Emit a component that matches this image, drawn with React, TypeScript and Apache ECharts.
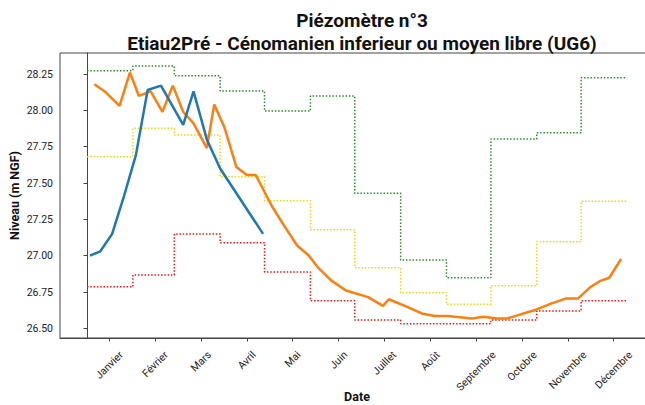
import React, { useEffect, useRef } from 'react';
import * as echarts from 'echarts';

// ---- categories / ticks ----
const MONTHS = ['Janvier', 'Février', 'Mars', 'Avril', 'Mai', 'Juin', 'Juillet', 'Août', 'Septembre', 'Octobre', 'Novembre', 'Décembre'];
const TICK_DAYS = [15, 46, 77, 108, 139, 170, 201, 232, 263, 294, 325, 356];
const MONTH_START_DAYS = [0, 31, 59, 90, 120, 151, 181, 212, 243, 273, 304, 334, 365];
const Y_TICKS = [26.5, 26.75, 27.0, 27.25, 27.5, 27.75, 28.0, 28.25];

// ---- monthly threshold levels (m NGF) ----
const GREEN_LEVELS = [28.273, 28.305, 28.238, 28.133, 27.995, 28.099, 27.429, 26.97, 26.848, 27.803, 27.846, 28.225];
const YELLOW_LEVELS = [27.681, 27.876, 27.83, 27.543, 27.378, 27.178, 26.917, 26.745, 26.666, 26.793, 27.096, 27.375];
const RED_LEVELS = [26.786, 26.867, 27.149, 27.089, 26.888, 26.69, 26.558, 26.532, 26.532, 26.558, 26.62, 26.69];

// ---- measured series (day of year, level) ----
const ORANGE_DAYS = [5, 12, 22, 29, 35, 43, 51, 58, 65, 72, 81, 86, 93, 101, 108, 114, 125, 133, 142, 150, 156, 165, 175, 190, 200, 204, 216, 227, 235, 244, 260, 268, 277, 284, 293, 304, 314, 324, 332, 340, 347, 353, 361];
const ORANGE_VALUES = [28.18, 28.13, 28.03, 28.26, 28.1, 28.13, 27.99, 28.17, 27.99, 27.91, 27.74, 28.04, 27.88, 27.61, 27.555, 27.555, 27.34, 27.21, 27.07, 27.0, 26.92, 26.83, 26.76, 26.715, 26.655, 26.7, 26.65, 26.6, 26.585, 26.585, 26.568, 26.58, 26.568, 26.568, 26.596, 26.63, 26.672, 26.706, 26.706, 26.782, 26.827, 26.848, 26.977];
const BLUE_DAYS = [2, 9, 17, 25, 33, 41, 50, 65, 72, 81, 90, 119];
const BLUE_VALUES = [27.0, 27.03, 27.15, 27.41, 27.69, 28.14, 28.17, 27.9, 28.13, 27.8, 27.6, 27.15];

const FONT = 'Roboto';
const TEXT = '#222';
const AXIS = '#444';
const TICK_FONT_SIZE = 10.5;

function measure(s: string, font: string): number {
  const ctx = document.createElement('canvas').getContext('2d');
  if (!ctx) return s.length * 5.5;
  ctx.font = font;
  return ctx.measureText(s).width;
}

export default function App() {
  const ref = useRef<HTMLDivElement>(null);
  useEffect(() => {
    if (!ref.current) return;
    const chart = echarts.init(ref.current, undefined, { renderer: 'svg' });

    const rich: Record<string, any> = {};
    MONTHS.forEach((m, i) => {
      const w = measure(m, `${TICK_FONT_SIZE}px ${FONT}`);
      rich['m' + i] = { fontSize: TICK_FONT_SIZE, fontFamily: FONT, color: TEXT, padding: [w / 2, w / 2, 0, 0] };
    });

    const stepData = (levels: number[]) => MONTH_START_DAYS.map((d, i) => [d, levels[Math.min(i, levels.length - 1)]]);
    const stepSeries = (name: string, levels: number[], color: string) => ({
      name, type: 'line', step: 'end', data: stepData(levels), showSymbol: false, symbol: 'none',
      lineStyle: { color, width: 1.5, type: [1.5, 1.8] }, z: 2,
    });
    const pairs = (xs: number[], ys: number[]) => xs.map((x, i) => [x, ys[i]]);

    chart.setOption({
      animation: false,
      title: {
        text: 'Piézomètre n°3\nEtiau2Pré - Cénomanien inferieur ou moyen libre (UG6)',
        left: 357, top: 4, textAlign: 'center',
        textStyle: { fontFamily: FONT, fontWeight: 'bold', fontSize: 19, lineHeight: 23, color: '#111' },
      },
      grid: { left: 60, top: 53, right: -9, bottom: 67, show: true, borderColor: AXIS, borderWidth: 1, outerBoundsMode: 'none' },
      xAxis: {
        type: 'value', min: -18.25, max: 383.25,
        name: 'Date', nameLocation: 'middle', nameGap: 52, nameMoveOverlap: false,
        nameTextStyle: { fontFamily: FONT, fontWeight: 'bold', fontSize: 12.5, color: '#111' },
        splitLine: { show: false },
        axisLine: { lineStyle: { color: AXIS, width: 1 } },
        axisTick: { customValues: TICK_DAYS, length: 3.5, lineStyle: { color: AXIS } },
        axisLabel: {
          customValues: TICK_DAYS, rotate: 45, align: 'center', verticalAlign: 'middle', margin: 15,
          interval: 0, hideOverlap: false, rich,
          formatter: (v: number) => {
            const i = TICK_DAYS.indexOf(Math.round(v));
            return i >= 0 ? `{m${i}|${MONTHS[i]}}` : '';
          },
        },
      },
      yAxis: {
        type: 'value', min: 26.4335, max: 28.3945,
        name: 'Niveau (m NGF)', nameLocation: 'middle', nameGap: 39, nameMoveOverlap: false,
        nameTextStyle: { fontFamily: FONT, fontWeight: 'bold', fontSize: 12.5, color: '#111' },
        splitLine: { show: false },
        axisLine: { show: true, lineStyle: { color: AXIS, width: 1 } },
        axisTick: { show: true, customValues: Y_TICKS, length: 3.5, lineStyle: { color: AXIS } },
        axisLabel: {
          customValues: Y_TICKS, margin: 7, fontFamily: FONT, fontSize: TICK_FONT_SIZE, color: TEXT,
          formatter: (v: number) => v.toFixed(2),
        },
      },
      series: [
        stepSeries('Seuil haut', GREEN_LEVELS, '#2e8b2e'),
        stepSeries('Seuil moyen', YELLOW_LEVELS, '#e8dc10'),
        stepSeries('Seuil bas', RED_LEVELS, '#f01818'),
        {
          name: 'Année précédente', type: 'line', data: pairs(ORANGE_DAYS, ORANGE_VALUES), showSymbol: false, symbol: 'none',
          lineStyle: { color: '#ff7f0e', width: 2.5 }, z: 3,
        },
        {
          name: 'Année en cours', type: 'line', data: pairs(BLUE_DAYS, BLUE_VALUES), showSymbol: false, symbol: 'none',
          lineStyle: { color: '#1f77b4', width: 2.5 }, z: 4,
        },
      ],
    });
    return () => chart.dispose();
  }, []);
  return <div ref={ref} style={{ position: 'fixed', left: 0, top: 0, width: 645, height: 405, background: '#fff' }} />;
}
